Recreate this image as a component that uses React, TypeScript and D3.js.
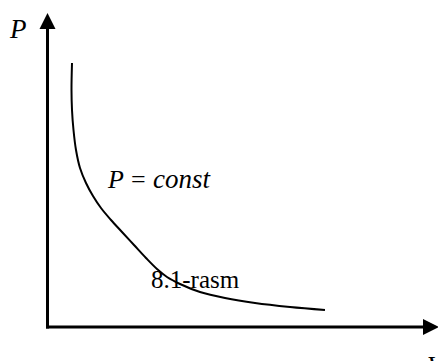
import React from "react";
import * as d3 from "d3";

const volumeV = [24, 23.5, 24, 25.5, 28, 32, 38, 45, 53, 63, 74, 86, 98, 109, 119, 132, 152, 177, 207, 242, 277];
const pressureP = [264, 237, 217, 197, 177, 159, 144, 131, 119, 107, 95, 82, 69, 58, 50, 43, 35, 29, 24, 20, 17];
const axisLabels = { x: "V", y: "P" };
const curveLabel = { left: "P", op: "=", right: "const" };
const caption = "8.1-rasm";

const W = 438;
const H = 361;

export default function App() {
  const x = d3.scaleLinear().domain([0, 390]).range([48, 438]);
  const y = d3.scaleLinear().domain([0, 314]).range([327, 13]);
  const pts: [number, number][] = volumeV.map((v, i) => [v, pressureP[i]]);
  const line = d3
    .line<[number, number]>()
    .x((d) => x(d[0]))
    .y((d) => y(d[1]))
    .curve(d3.curveCatmullRom.alpha(0.5));
  const x0 = x(0) - 0.5;
  const y0 = y(0);
  return (
    <svg width={W} height={H} style={{ position: "absolute", left: 0, top: 0, background: "#fff" }}>
      <style>{`.ser { font-family: "Liberation Serif", "Times New Roman", Tinos, serif; } .it { font-style: italic; }`}</style>
      <rect width={W} height={H} fill="#fff" />
      {/* axes */}
      <line x1={x0} y1={y0 + 1.5} x2={x0} y2={26} stroke="#000" strokeWidth={3} />
      <line x1={x0 - 1.5} y1={y0} x2={425} y2={y0} stroke="#000" strokeWidth={3} />
      <path d={`M${x0},13 L${x0 - 8},29 L${x0 + 8},29 Z`} fill="#000" />
      <path d={`M439,${y0} L423,${y0 - 8} L423,${y0 + 8} Z`} fill="#000" />
      {/* curve */}
      <path d={line(pts) || ""} fill="none" stroke="#000" strokeWidth={2} />
      {/* labels */}
      <text className="ser it" x={10} y={38} fontFamily="Liberation Serif" fontSize={27} fill="#000">
        {axisLabels.y}
      </text>
      <text className="ser it" x={427} y={375} fontFamily="Liberation Serif" fontSize={27} fill="#000">
        {axisLabels.x}
      </text>
      <text className="ser it" x={108} y={188} fontFamily="Liberation Serif" fontSize={26} fill="#000">
        {curveLabel.left}
      </text>
      <text className="ser" x={131} y={188} fontFamily="Liberation Serif" fontSize={26} fill="#000">
        {curveLabel.op}
      </text>
      <text className="ser it" x={153} y={188} fontFamily="Liberation Serif" fontSize={27} fill="#000">
        {curveLabel.right}
      </text>
      <text className="ser" x={151} y={288} fontFamily="Liberation Serif" fontSize={25} fill="#000">
        {caption}
      </text>
    </svg>
  );
}
